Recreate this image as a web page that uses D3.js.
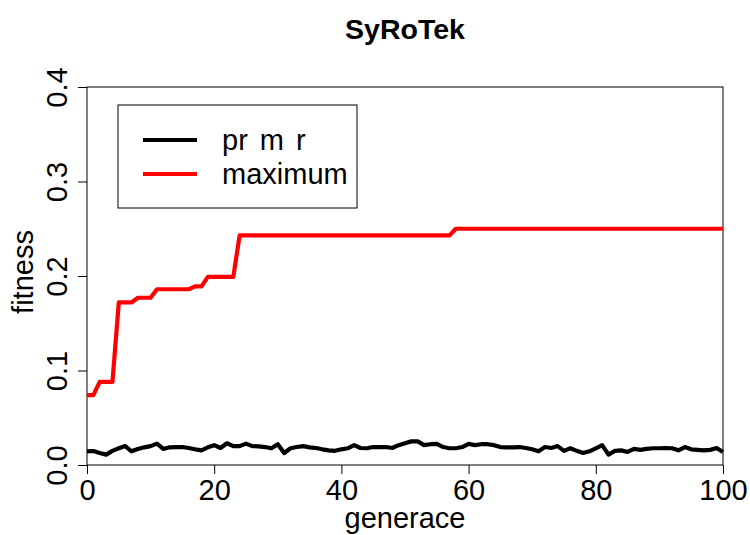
<!DOCTYPE html>
<html><head><meta charset="utf-8">
<script src="https://cdn.jsdelivr.net/npm/d3@7"></script>
<style>body{margin:0;background:#fff}svg{display:block}text{font-family:"Liberation Sans",Arial,sans-serif}</style>
</head><body><svg id="c" width="750" height="535"></svg>
<script>
const title = "SyRoTek";
const xLabel = "generace";
const yLabel = "fitness";
const seriesNames = ["pr m r", "maximum"];
const seriesColors = ["#000000", "#ff0000"];
const xTicks = [0, 20, 40, 60, 80, 100];
const yTicks = [0.0, 0.1, 0.2, 0.3, 0.4];
const yTickLabels = ["0.0", "0.1", "0.2", "0.3", "0.4"];
const average = [0.0145,0.0148,0.0127,0.011,0.015,0.0177,0.020,0.0145,0.017,0.0187,
0.020,0.0226,0.017,0.0187,0.019,0.019,0.018,0.0166,0.0155,0.0187,
0.021,0.018,0.023,0.020,0.020,0.0226,0.020,0.0197,0.019,0.0177,
0.022,0.0127,0.0177,0.019,0.020,0.0187,0.018,0.0166,0.0155,0.015,
0.0166,0.0177,0.021,0.018,0.0177,0.019,0.019,0.019,0.018,0.021,
0.023,0.025,0.025,0.021,0.022,0.0223,0.019,0.0177,0.0177,0.019,
0.0223,0.021,0.022,0.022,0.021,0.019,0.0187,0.0187,0.019,0.018,
0.0166,0.0145,0.019,0.018,0.020,0.015,0.0177,0.015,0.0127,0.0145,
0.0177,0.021,0.011,0.015,0.0155,0.0138,0.017,0.016,0.017,0.0177,
0.0177,0.018,0.0177,0.0155,0.019,0.0166,0.016,0.0155,0.016,0.018,0.0138];
const maximum = [0.074,0.074,0.088,0.088,0.088,0.172,0.172,0.172,0.177,0.177,
0.177,0.186,0.186,0.186,0.186,0.186,0.186,0.189,0.189,0.199,
0.199,0.199,0.199,0.199,0.243,0.243,0.243,0.243,0.243,0.243,
0.243,0.243,0.243,0.243,0.243,0.243,0.243,0.243,0.243,0.243,
0.243,0.243,0.243,0.243,0.243,0.243,0.243,0.243,0.243,0.243,
0.243,0.243,0.243,0.243,0.243,0.243,0.243,0.243,0.25,0.25,
0.25,0.25,0.25,0.25,0.25,0.25,0.25,0.25,0.25,0.25,
0.25,0.25,0.25,0.25,0.25,0.25,0.25,0.25,0.25,0.25,
0.25,0.25,0.25,0.25,0.25,0.25,0.25,0.25,0.25,0.25,
0.25,0.25,0.25,0.25,0.25,0.25,0.25,0.25,0.25,0.25,0.25];
const series = [average, maximum];

const svg = d3.select("#c");
const L = 87, R = 723, T = 87, B = 465;
const x = d3.scaleLinear().domain([0, 100]).range([L, R]);
const y = d3.scaleLinear().domain([0, 0.4]).range([B, T]);
const FS = 29;

// frame
svg.append("rect").attr("x", L).attr("y", T).attr("width", R - L).attr("height", B - T)
  .attr("fill", "none").attr("stroke", "#000").attr("stroke-width", 1);

// lines
const line = d3.line().x((d, i) => x(i)).y(d => y(d));
series.forEach((s, k) => {
  svg.append("path").datum(s).attr("d", line).attr("fill", "none")
    .attr("stroke", seriesColors[k]).attr("stroke-width", 4.2)
    .attr("stroke-linejoin", "round").attr("stroke-linecap", "butt");
});

// x axis
const xa = svg.append("g").attr("transform", `translate(0,${B})`)
  .call(d3.axisBottom(x).tickValues(xTicks).tickSize(9).tickPadding(5).tickFormat(d3.format("d")));
xa.select(".domain").remove();
xa.selectAll("text").attr("font-size", FS).attr("fill", "#000").attr("dy", "0.71em")
  .style("font-family", "Liberation Sans, Arial, sans-serif");

// y axis
const ya = svg.append("g").attr("transform", `translate(${L},0)`)
  .call(d3.axisLeft(y).tickValues(yTicks).tickSize(9).tickFormat((d, i) => yTickLabels[i]));
ya.select(".domain").remove();
ya.selectAll("text").remove();
ya.selectAll(".tick").append("text")
  .attr("transform", "translate(-20,0) rotate(-90)")
  .attr("text-anchor", "middle").attr("fill", "#000").attr("font-size", FS)
  .text((d, i) => yTickLabels[i]);

// titles
svg.append("text").attr("x", 405).attr("y", 39).attr("text-anchor", "middle")
  .attr("font-size", 28.5).attr("font-weight", "bold").text(title);
svg.append("text").attr("x", 405).attr("y", 528).attr("text-anchor", "middle")
  .attr("font-size", FS).text(xLabel);
svg.append("text").attr("transform", "translate(33,272) rotate(-90)").attr("text-anchor", "middle")
  .attr("font-size", FS).text(yLabel);

// legend
const lg = svg.append("g");
lg.append("rect").attr("x", 118).attr("y", 105).attr("width", 239).attr("height", 103)
  .attr("fill", "#fff").attr("stroke", "#000").attr("stroke-width", 1);
seriesNames.forEach((n, k) => {
  const yy = 140 + k * 34;
  lg.append("line").attr("x1", 143).attr("x2", 197).attr("y1", yy).attr("y2", yy)
    .attr("stroke", seriesColors[k]).attr("stroke-width", 4.2);
  lg.append("text").attr("x", 222).attr("y", yy + 10).attr("font-size", FS)
    .attr("word-spacing", 4).text(n);
});
</script></body></html>
